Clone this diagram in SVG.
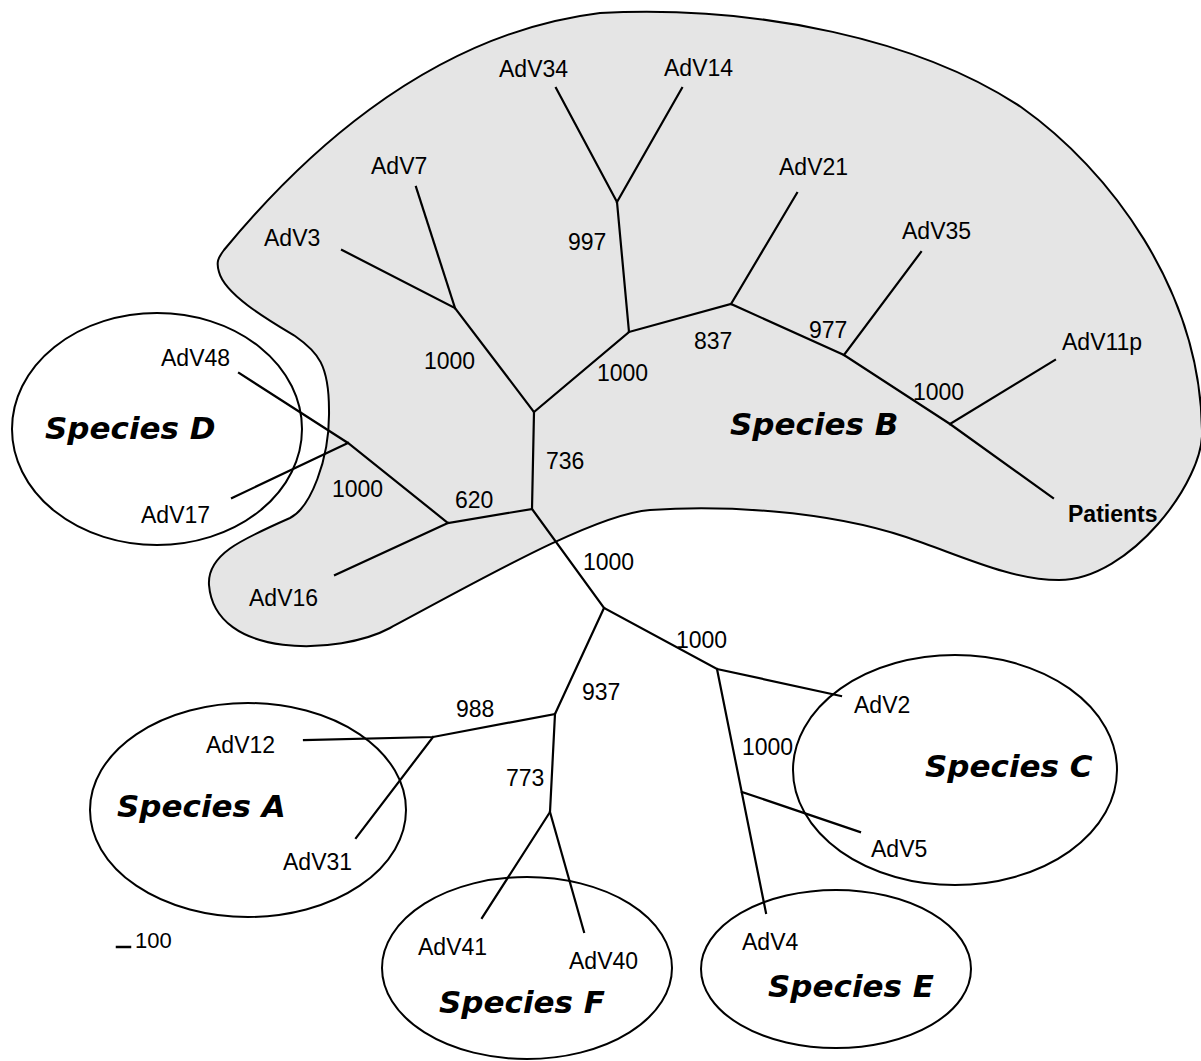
<svg xmlns="http://www.w3.org/2000/svg" width="1201" height="1061" viewBox="0 0 1201 1061">
<style>
.lbl{font-family:"Liberation Sans",Arial,sans-serif;font-size:23px;fill:#000}
.bold{font-weight:bold}
.sp{font-family:"DejaVu Sans",Verdana,sans-serif;font-size:31px;font-weight:bold;font-style:italic;fill:#000}
.br{stroke:#000;stroke-width:2.2;fill:none;stroke-linecap:square}
.ell{stroke:#000;stroke-width:2;fill:none}
</style>
<rect width="1201" height="1061" fill="#fff"/>
<g id="speciesB-region">
<path d="M 224,250 C 290,170 420,35 600,13 C 760,5 920,40 1021,107 C 1110,170 1200,290 1202,430 C 1205,480 1130,580 1059,580 C 1010,580 960,555 906,537 C 825,510 720,505 650,510 C 595,514 480,580 390,628 C 340,655 215,660 209,585 C 207,555 240,540 290,518 C 310,508 330,460 329,410 C 329,365 318,352 295,336 C 270,321 225,295 219,272 C 216,262 218,258 224,250 Z" fill="#e5e5e5" stroke="#000" stroke-width="2"/>
</g>
<g id="speciesD"><ellipse class="ell" cx="157" cy="429" rx="145" ry="116"/><text class="sp" x="45" y="439">Species D</text></g>
<g id="speciesA"><ellipse class="ell" cx="248" cy="810" rx="158" ry="107"/><text class="sp" x="117" y="817">Species A</text></g>
<g id="speciesF"><ellipse class="ell" cx="527" cy="968" rx="145" ry="91"/><text class="sp" x="439" y="1013">Species F</text></g>
<g id="speciesC"><ellipse class="ell" cx="955" cy="770" rx="162" ry="115"/><text class="sp" x="925" y="777">Species C</text></g>
<g id="speciesE"><ellipse class="ell" cx="836" cy="969" rx="135" ry="79"/><text class="sp" x="768" y="997">Species E</text></g>
<g id="labelB"><text class="sp" x="730" y="435">Species B</text></g>
<g id="connectors" class="br">
<polyline points="239,373 348,443 448,523 532,509 534,412 455,308 342,250"/>
<line x1="455" y1="308" x2="416" y2="187"/>
<line x1="232" y1="498" x2="348" y2="443"/>
<line x1="335" y1="575" x2="448" y2="523"/>
<polyline points="534,412 629,332 617,202 556,88"/>
<line x1="617" y1="202" x2="682" y2="88"/>
<polyline points="629,332 731,304 844,355 950,424 1053,498"/>
<line x1="731" y1="304" x2="797" y2="193"/>
<line x1="844" y1="355" x2="921" y2="252"/>
<line x1="950" y1="424" x2="1055" y2="360"/>
<polyline points="532,509 604,608 717,669 841,696"/>
<line x1="717" y1="669" x2="766" y2="913"/>
<line x1="742" y1="792" x2="860" y2="832"/>
<polyline points="604,608 555,714 433,737 304,740"/>
<line x1="433" y1="737" x2="356" y2="838"/>
<polyline points="555,714 550,812 482,918"/>
<line x1="550" y1="812" x2="584" y2="932"/>
<line x1="117" y1="947" x2="130" y2="947" stroke-width="2.5"/>
</g>
<g id="leaves">
<text class="lbl" x="499" y="77">AdV34</text>
<text class="lbl" x="664" y="76">AdV14</text>
<text class="lbl" x="371" y="174">AdV7</text>
<text class="lbl" x="779" y="175">AdV21</text>
<text class="lbl" x="264" y="246">AdV3</text>
<text class="lbl" x="902" y="239">AdV35</text>
<text class="lbl" x="161" y="366">AdV48</text>
<text class="lbl" x="1062" y="350">AdV11p</text>
<text class="lbl" x="141" y="523">AdV17</text>
<text class="lbl" x="249" y="606">AdV16</text>
<text class="lbl bold" x="1068" y="522">Patients</text>
<text class="lbl" x="854" y="713">AdV2</text>
<text class="lbl" x="871" y="857">AdV5</text>
<text class="lbl" x="742" y="950">AdV4</text>
<text class="lbl" x="206" y="753">AdV12</text>
<text class="lbl" x="283" y="870">AdV31</text>
<text class="lbl" x="418" y="955">AdV41</text>
<text class="lbl" x="569" y="969">AdV40</text>
</g>
<g id="bootstrap">
<text class="lbl" x="568" y="250">997</text>
<text class="lbl" x="424" y="369">1000</text>
<text class="lbl" x="694" y="349">837</text>
<text class="lbl" x="809" y="338">977</text>
<text class="lbl" x="597" y="381">1000</text>
<text class="lbl" x="913" y="400">1000</text>
<text class="lbl" x="332" y="497">1000</text>
<text class="lbl" x="455" y="508">620</text>
<text class="lbl" x="546" y="469">736</text>
<text class="lbl" x="583" y="570">1000</text>
<text class="lbl" x="676" y="648">1000</text>
<text class="lbl" x="742" y="755">1000</text>
<text class="lbl" x="456" y="717">988</text>
<text class="lbl" x="582" y="700">937</text>
<text class="lbl" x="506" y="786">773</text>
<text class="lbl" x="135" y="948" style="font-size:22px">100</text>
</g>
</svg>
